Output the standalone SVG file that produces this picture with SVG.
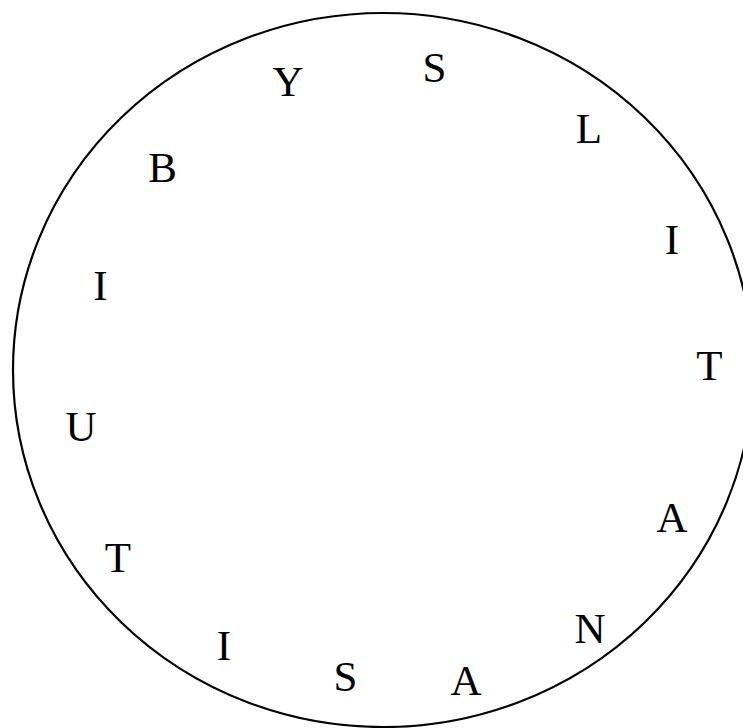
<svg xmlns="http://www.w3.org/2000/svg" width="743" height="728" viewBox="0 0 743 728">
<style>
.l{font-family:"Liberation Serif","Times New Roman",serif;font-size:43px;fill:#000;text-anchor:middle}
</style>
<rect width="743" height="728" fill="#fff"/>
<g id="ring"><ellipse cx="383" cy="370" rx="370" ry="357" fill="none" stroke="#000" stroke-width="2.2"/></g>
<g id="letters">
<g id="n1"><text class="l" x="434.5" y="82">S</text></g>
<g id="n2"><text class="l" x="589" y="143">L</text></g>
<g id="n3"><text class="l" x="672" y="254">I</text></g>
<g id="n4"><text class="l" x="709.5" y="380">T</text></g>
<g id="n5"><text class="l" x="672" y="532">A</text></g>
<g id="n6"><text class="l" x="590" y="643">N</text></g>
<g id="n7"><text class="l" x="466" y="695">A</text></g>
<g id="n8"><text class="l" x="345.5" y="691">S</text></g>
<g id="n9"><text class="l" x="224" y="660">I</text></g>
<g id="n10"><text class="l" x="118" y="572">T</text></g>
<g id="n11"><text class="l" x="81" y="441">U</text></g>
<g id="n12"><text class="l" x="100.5" y="300">I</text></g>
<g id="n13"><text class="l" x="162.5" y="181.5">B</text></g>
<g id="n14"><text class="l" x="288" y="96">Y</text></g>
</g>
</svg>
